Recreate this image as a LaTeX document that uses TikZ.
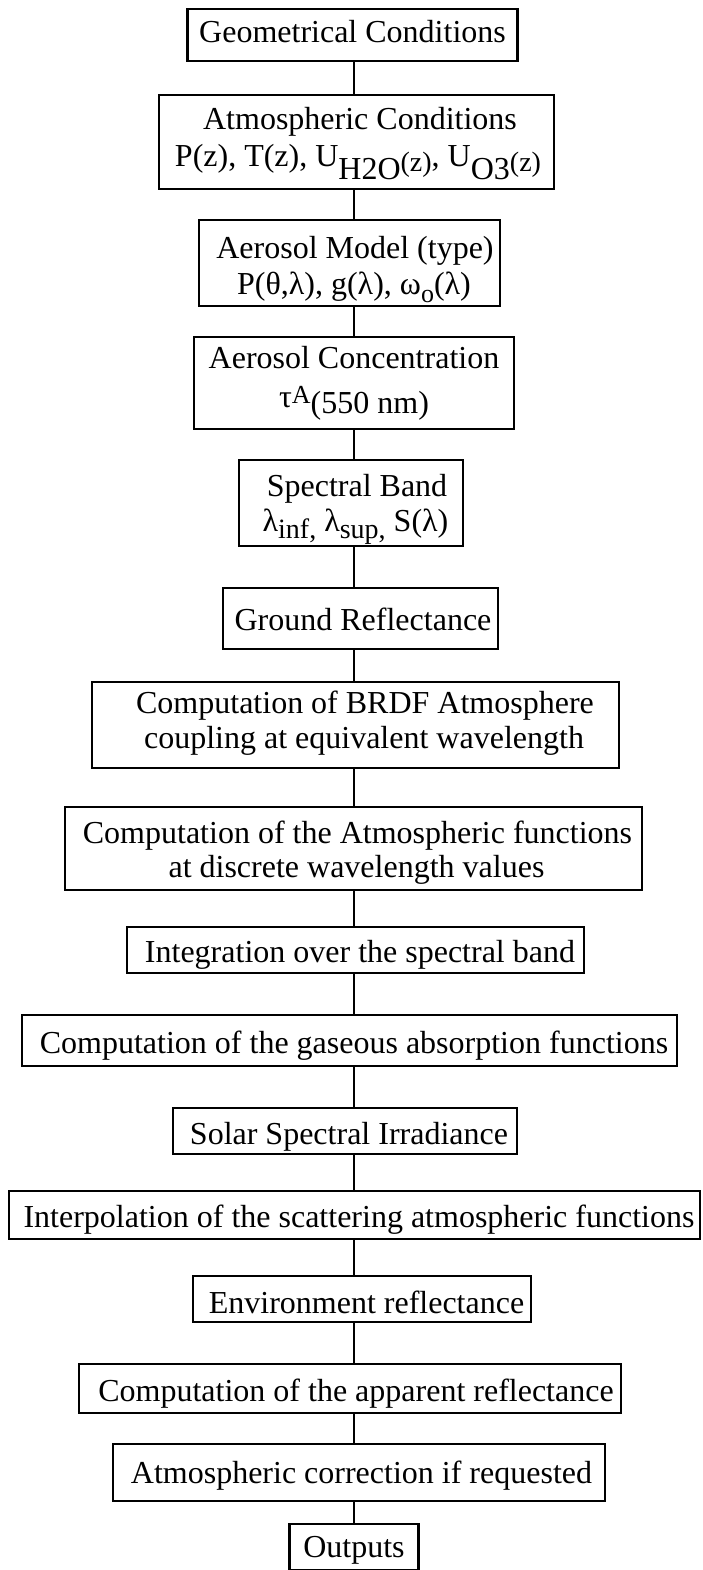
\documentclass[tikz,border=0pt]{standalone}
\usepackage{fontspec}
\setmainfont{Liberation Serif}
\newcommand{\shdn}[2]{\raisebox{-#1pt}{#2}}
\newcommand{\fsz}[1]{\fontsize{#1}{#1}\selectfont}
% \tline{raise}{2*xshift}{text}: a line whose baseline sits 'raise' above the node centre
\newcommand{\tline}[3]{\makebox[0pt]{\hspace*{#2pt}\raisebox{#1pt}[0pt][0pt]{#3}}}
\begin{document}
\begin{tikzpicture}[x=1pt,y=-1pt,
  box/.style={draw, line width=2.5pt, inner sep=0pt,
    font=\fontsize{32}{35}\selectfont},
  conn/.style={line width=2.7pt}]
\useasboundingbox (0,0) rectangle (702,1570);
\coordinate (axis) at (354,0);
\node[box, minimum width=330pt, minimum height=52pt] (g1) at (352.5,35)
  {\tline{-8}{0}{Geometrical Conditions}};
\node[box, minimum width=395pt, minimum height=94pt] (g2) at (356.5,142)
  {\tline{12}{7}{Atmospheric Conditions}%
   \tline{-25}{3}{P(z), T(z), U\shdn{13}{H2O}\shdn{5}{\fsz{28}(z)}, U\shdn{13}{O3}\shdn{5}{\fsz{28}(z)}}};
\node[box, minimum width=301pt, minimum height=86pt] (g3) at (349.5,263)
  {\tline{5}{11}{Aerosol Model (type)}%
   \tline{-31}{9}{P(θ,λ), g(λ), ω\shdn{8}{\fsz{26}o}(λ)}};
\node[box, minimum width=320pt, minimum height=92pt] (g4) at (354,383)
  {\tline{15}{0}{Aerosol Concentration}%
   \tline{-30}{0}{\raisebox{6pt}{τ}\raisebox{10pt}{\fsz{26}A}(550 nm)}};
\node[box, minimum width=224pt, minimum height=86pt] (g5) at (351,503)
  {\tline{7}{12}{Spectral Band}%
   \tline{-28}{9}{λ\shdn{7}{\fsz{28}inf,} λ\shdn{7}{\fsz{28}sup,} S(λ)}};
\node[box, minimum width=275pt, minimum height=61pt] (g6) at (360.5,618.5)
  {\tline{-11.5}{5}{Ground Reflectance}};
\node[box, minimum width=527pt, minimum height=86pt] (g7) at (355.5,725)
  {\tline{12}{19}{Computation of BRDF Atmosphere}%
   \tline{-23}{17}{coupling at equivalent wavelength}};
\node[box, minimum width=577pt, minimum height=83pt] (g8) at (353.5,848.5)
  {\tline{5.5}{8}{Computation of the Atmospheric functions}%
   \tline{-28.5}{6}{at discrete wavelength values}};
\node[box, minimum width=457pt, minimum height=46pt] (g9) at (355.5,950)
  {\tline{-12.5}{9}{Integration over the spectral band}};
\node[box, minimum width=655pt, minimum height=51pt] (g10) at (349.5,1040.5)
  {\tline{-12.5}{9}{Computation of the gaseous absorption functions}};
\node[box, minimum width=344pt, minimum height=46pt] (g11) at (345,1131)
  {\tline{-13}{8}{Solar Spectral Irradiance}};
\node[box, minimum width=691pt, minimum height=48pt] (g12) at (354.5,1215)
  {\tline{-12}{9}{Interpolation of the scattering atmospheric functions}};
\node[box, minimum width=338pt, minimum height=46pt] (g13) at (362,1299)
  {\tline{-14}{9}{Environment reflectance}};
\node[box, minimum width=542pt, minimum height=49pt] (g14) at (350,1388.5)
  {\tline{-12.5}{12}{Computation of the apparent reflectance}};
\node[box, minimum width=492pt, minimum height=57pt] (g15) at (359,1472.5)
  {\tline{-10.5}{5}{Atmospheric correction if requested}};
\node[box, minimum width=129pt, minimum height=46pt] (g16) at (354,1547)
  {\tline{-10}{0}{Outputs}};
\foreach \a/\b in {g1/g2,g2/g3,g3/g4,g4/g5,g5/g6,g6/g7,g7/g8,g8/g9,g9/g10,g10/g11,g11/g12,g12/g13,g13/g14,g14/g15,g15/g16}
  \draw[conn] (\a.south -| axis) -- (\b.north -| axis);
\end{tikzpicture}
\end{document}
